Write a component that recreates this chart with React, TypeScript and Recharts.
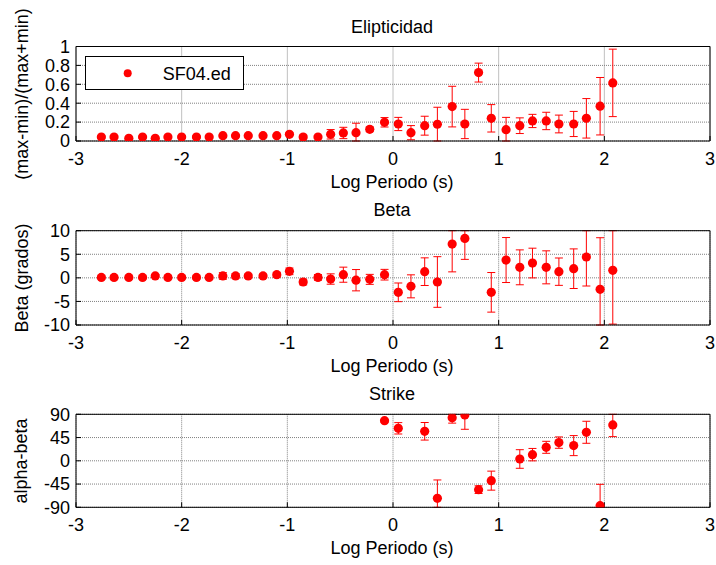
import React from "react";
import {
  ScatterChart,
  Scatter,
  XAxis,
  YAxis,
  CartesianGrid,
  ErrorBar,
  Legend,
} from "recharts";

// log10 of period (s), one per sounding frequency
const logPeriod = [
  -2.76, -2.64, -2.5, -2.37, -2.25, -2.13, -2.0, -1.86, -1.74, -1.61,
  -1.49, -1.37, -1.23, -1.1, -0.98, -0.85, -0.71, -0.59, -0.47, -0.35,
  -0.22, -0.08, 0.05, 0.17, 0.3, 0.42, 0.56, 0.68, 0.81, 0.93,
  1.07, 1.2, 1.32, 1.45, 1.57, 1.71, 1.83, 1.96, 2.08,
];

const elipVal = [
  0.042, 0.042, 0.029, 0.042, 0.029, 0.042, 0.042, 0.042, 0.042, 0.056,
  0.056, 0.056, 0.056, 0.056, 0.071, 0.042, 0.042, 0.071, 0.085, 0.088,
  0.124, 0.198, 0.18, 0.088, 0.162, 0.177, 0.364, 0.18, 0.724, 0.24,
  0.12, 0.162, 0.212, 0.212, 0.18, 0.18, 0.24, 0.368, 0.615,
];
const elipErr = [
  0.01, 0.01, 0.01, 0.01, 0.01, 0.01, 0.01, 0.01, 0.01, 0.01,
  0.01, 0.01, 0.01, 0.01, 0.015, 0.02, 0.015, 0.05, 0.06, 0.1,
  0.025, 0.05, 0.07, 0.075, 0.1, 0.18, 0.215, 0.155, 0.1, 0.145,
  0.13, 0.083, 0.07, 0.092, 0.094, 0.133, 0.209, 0.304, 0.357,
];

const betaVal = [
  0.1, 0.1, 0.1, 0.1, 0.4, 0.1, 0.1, 0.1, 0.1, 0.4,
  0.4, 0.4, 0.4, 0.67, 1.38, -0.88, 0.1, -0.25, 0.67, -0.5,
  -0.32, 0.67, -3.07, -1.8, 1.31, -0.88, 7.17, 8.37, null, -3.07,
  3.78, 2.23, 3.14, 2.23, 1.31, 1.94, 4.42, -2.44, 1.59,
];
const betaErr = [
  0.3, 0.3, 0.3, 0.3, 0.3, 0.3, 0.3, 0.3, 0.3, 0.7,
  0.5, 0.4, 0.4, 0.5, 0.7, 0.6, 0.6, 1.1, 1.6, 2.26,
  1.06, 1.13, 1.98, 2.44, 2.93, 5.37, 5.9, 4.45, null, 4.2,
  4.77, 3.7, 3.15, 3.5, 2.9, 4.2, 6.15, 10.95, 11.4,
];

const strikeVal = [
  null, null, null, null, null, null, null, null, null, null,
  null, null, null, null, null, null, null, null, null, null,
  null, 77.7, 62.9, null, 57.1, -72.6, 83.5, 88.7, -55.8, -38.4,
  null, 3.5, 11.9, 26.1, 35.2, 29.4, 55.2, -86.8, 69.4,
];
const strikeErr = [
  null, null, null, null, null, null, null, null, null, null,
  null, null, null, null, null, null, null, null, null, null,
  null, 2.5, 11, null, 17, 35.5, 10.6, 27.7, 7.4, 18.4,
  null, 18, 12, 11.6, 11, 19.4, 21.3, 41.3, 22.6,
];

const xTicks = [-3, -2, -1, 0, 1, 2, 3];
const elipTicks = [0, 0.2, 0.4, 0.6, 0.8, 1];
const betaTicks = [-10, -5, 0, 5, 10];
const strikeTicks = [-90, -45, 0, 45, 90];

const seriesName = "SF04.ed";

const FONT = "'Liberation Sans', Arial, Helvetica, sans-serif";
const RED = "#ff0000";
const tickStyle = { fontSize: 18, fill: "#000", fontFamily: FONT };

type Row = { x: number; y: number; err: [number, number] };

// error bars are cut at the axes limits, like the original figure
function rows(vals: (number | null)[], errs: (number | null)[], dom: [number, number]) {
  const out: Row[] = [];
  logPeriod.forEach((x, i) => {
    const v = vals[i];
    if (v == null) return;
    const e = errs[i] ?? 0;
    out.push({
      x,
      y: v,
      err: [Math.max(0, Math.min(e, v - dom[0])), Math.max(0, Math.min(e, dom[1] - v))],
    });
  });
  return out;
}

const Dot = (p: any) => <circle cx={p.cx} cy={p.cy} r={4.6} fill={RED} />;

function LegendBox() {
  return (
    <svg width={159} height={34} style={{ display: "block" }}>
      <rect x={0.5} y={0.5} width={158} height={33} fill="#fff" stroke="#000" />
      <circle cx={42.7} cy={17.3} r={4} fill={RED} />
      <text x={77.7} y={23.5} fontSize={18} fontFamily={FONT} fill="#000">
        {seriesName}
      </text>
    </svg>
  );
}

function Panel({
  top,
  height,
  marginTop,
  marginBottom,
  yDomain,
  yTicks,
  data,
  legend,
}: {
  top: number;
  height: number;
  marginTop: number;
  marginBottom: number;
  yDomain: [number, number];
  yTicks: number[];
  data: Row[];
  legend?: boolean;
}) {
  return (
    <div style={{ position: "absolute", left: 0, top }}>
      <ScatterChart
        width={716}
        height={height}
        margin={{ top: marginTop, right: 5, bottom: marginBottom, left: 26 }}
      >
        <CartesianGrid stroke="#808080" strokeDasharray="1 1" />
        <XAxis
          type="number"
          dataKey="x"
          domain={[-3, 3]}
          ticks={xTicks}
          interval={0}
          allowDataOverflow
          height={30}
          tickSize={-5}
          tickMargin={16}
          tick={tickStyle}
          axisLine={{ stroke: "#000" }}
          tickLine={{ stroke: "#000" }}
        />
        <XAxis
          xAxisId="top"
          orientation="top"
          type="number"
          dataKey="x"
          domain={[-3, 3]}
          ticks={xTicks}
          interval={0}
          height={1}
          tickSize={-5}
          tick={false}
          axisLine={{ stroke: "#000" }}
          tickLine={{ stroke: "#000" }}
        />
        <YAxis
          type="number"
          dataKey="y"
          domain={yDomain}
          ticks={yTicks}
          interval={0}
          allowDataOverflow
          width={50}
          tickSize={-5}
          tickMargin={11}
          tick={tickStyle}
          axisLine={{ stroke: "#000" }}
          tickLine={{ stroke: "#000" }}
        />
        <YAxis
          yAxisId="right"
          orientation="right"
          type="number"
          dataKey="y"
          domain={yDomain}
          ticks={yTicks}
          interval={0}
          width={1}
          tickSize={-5}
          tick={false}
          axisLine={{ stroke: "#000" }}
          tickLine={{ stroke: "#000" }}
        />
        <Scatter name={seriesName} data={data} shape={Dot} isAnimationActive={false}>
          <ErrorBar dataKey="err" direction="y" width={4} stroke={RED} strokeWidth={1} />
        </Scatter>
        {legend && (
          <Legend
            layout="vertical"
            align="center"
            verticalAlign="middle"
            wrapperStyle={{ left: 85, top: 56, width: 159, height: 34 }}
            content={() => <LegendBox />}
          />
        )}
      </ScatterChart>
    </div>
  );
}

export default function App() {
  const txt = { fontSize: 18, fontFamily: FONT, fill: "#000" };
  const elipDom: [number, number] = [0, 1];
  const betaDom: [number, number] = [-10, 10];
  const strikeDom: [number, number] = [-90, 90];
  return (
    <div
      style={{
        position: "absolute",
        left: 0,
        top: 0,
        width: 716,
        height: 565,
        background: "#fff",
        overflow: "hidden",
      }}
    >
      <Panel
        top={0}
        height={200}
        marginTop={45.5}
        marginBottom={29}
        yDomain={elipDom}
        yTicks={elipTicks}
        data={rows(elipVal, elipErr, elipDom)}
        legend
      />
      <Panel
        top={200}
        height={180}
        marginTop={29.7}
        marginBottom={25}
        yDomain={betaDom}
        yTicks={betaTicks}
        data={rows(betaVal, betaErr, betaDom)}
      />
      <Panel
        top={380}
        height={185}
        marginTop={33.3}
        marginBottom={27.7}
        yDomain={strikeDom}
        yTicks={strikeTicks}
        data={rows(strikeVal, strikeErr, strikeDom)}
      />
      <svg
        width={716}
        height={565}
        style={{ position: "absolute", left: 0, top: 0, pointerEvents: "none" }}
      >
        <text x={392} y={32.5} textAnchor="middle" {...txt}>Elipticidad</text>
        <text x={392} y={188} textAnchor="middle" {...txt}>Log Periodo (s)</text>
        <text x={392} y={216} textAnchor="middle" {...txt}>Beta</text>
        <text x={392} y={372} textAnchor="middle" {...txt}>Log Periodo (s)</text>
        <text x={392} y={400} textAnchor="middle" {...txt}>Strike</text>
        <text x={392} y={554} textAnchor="middle" {...txt}>Log Periodo (s)</text>
        <text x={28} y={94} textAnchor="middle" transform="rotate(-90 28 94)" {...txt}>
          (max-min)/(max+min)
        </text>
        <text x={28} y={278} textAnchor="middle" transform="rotate(-90 28 278)" {...txt}>
          Beta (grados)
        </text>
        <text x={27} y={461} textAnchor="middle" transform="rotate(-90 27 461)" {...txt}>
          alpha-beta
        </text>
      </svg>
    </div>
  );
}
